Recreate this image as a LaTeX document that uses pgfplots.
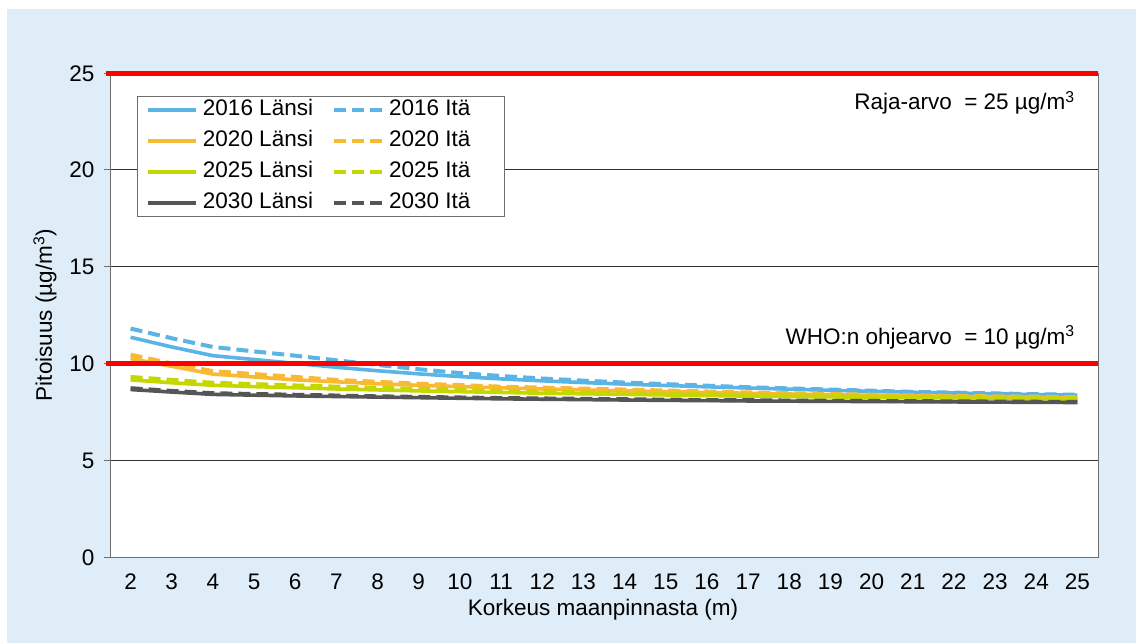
\documentclass[border=0pt]{standalone}
\usepackage{fontspec}
\setmainfont{Liberation Sans}
\usepackage{pgfplots}
\pgfplotsset{compat=1.18}

\definecolor{bgblue}{RGB}{222,237,247}
\definecolor{c16}{RGB}{91,180,230}
\definecolor{c20}{RGB}{250,185,50}
\definecolor{c25}{RGB}{198,214,0}
\definecolor{c30}{RGB}{85,85,85}
\definecolor{framegray}{RGB}{110,110,110}

\newcommand{\lblfont}{\fontsize{22.5}{27}\selectfont}

\begin{document}
\begin{tikzpicture}[x=1pt,y=1pt]
\useasboundingbox (0,0) rectangle (1136,-643);
\fill[white] (0,0) rectangle (1136,-643);
\fill[bgblue] (7,-9) rectangle (1136,-643);
\begin{axis}[
  at={(110pt,-557pt)}, anchor=south west,
  scale only axis, width=988pt, height=484pt,
  xmin=1.5, xmax=25.5, ymin=0, ymax=25,
  xtick={2,...,25}, ytick={0,5,...,25},
  axis background/.style={fill=white},
  axis line style={framegray, line width=1pt},
  ymajorgrids, grid style={black!80, line width=0.8pt},
  ytick pos=left, tick align=outside, major tick length=6pt,
  tick style={framegray, line width=0.8pt},
  xtick style={draw=none},
  /pgf/number format/assume math mode=true,
  ticklabel style={font=\lblfont, text=black, text height=16pt, text depth=0pt},
  xticklabel style={anchor=north, yshift=-7pt},
  yticklabel style={anchor=east, xshift=-6pt},
  xlabel={Korkeus maanpinnasta (m)},
  ylabel={Pitoisuus (µg/m\textsuperscript{3})},
  label style={font=\lblfont, text=black},
  xlabel style={at={(axis description cs:0.499,-0.1095)}, anchor=center},
  ylabel style={at={(axis description cs:-0.0658,0.5)}, anchor=center},
  clip=false,
  every axis plot/.append style={line width=3.6pt},
  legend columns=2,
  legend image code/.code={\draw[#1] (0pt,0pt) -- (48pt,0pt);},
  legend style={at={(0.0273,0.9525)}, anchor=north west,
    draw=framegray, line width=0.8pt, fill=white, font=\lblfont,
    inner xsep=9pt, inner ysep=4pt, row sep=11.5pt,
    nodes={inner xsep=0pt, inner ysep=0pt, text height=15pt, text depth=4.5pt},
    /tikz/every odd column/.append style={column sep=5pt},
    /tikz/every even column/.append style={column sep=19pt}},
  legend cell align=left,
]
% 2016
\addplot[c16] coordinates {(2,11.35) (3,10.85) (4,10.40) (5,10.20) (6,10.00) (7,9.80) (8,9.62) (9,9.46) (10,9.32) (11,9.20) (12,9.10) (13,9.01) (14,8.93) (15,8.86) (16,8.79) (17,8.73) (18,8.67) (19,8.61) (20,8.56) (21,8.51) (22,8.47) (23,8.43) (24,8.39) (25,8.36)};
\addlegendentry{2016 Länsi}
\addplot[c16, line width=4pt, dash pattern=on 12pt off 6pt] coordinates {(2,11.80) (3,11.30) (4,10.85) (5,10.62) (6,10.40) (7,10.16) (8,9.92) (9,9.70) (10,9.50) (11,9.35) (12,9.22) (13,9.11) (14,9.01) (15,8.93) (16,8.85) (17,8.77) (18,8.71) (19,8.65) (20,8.59) (21,8.53) (22,8.49) (23,8.45) (24,8.41) (25,8.38)};
\addlegendentry{\makebox[106pt][l]{2016 Itä}}
% 2020
\addplot[c20] coordinates {(2,10.25) (3,9.85) (4,9.45) (5,9.30) (6,9.15) (7,9.05) (8,8.95) (9,8.87) (10,8.80) (11,8.74) (12,8.68) (13,8.63) (14,8.58) (15,8.54) (16,8.50) (17,8.46) (18,8.42) (19,8.38) (20,8.35) (21,8.32) (22,8.30) (23,8.27) (24,8.25) (25,8.22)};
\addlegendentry{2020 Länsi}
\addplot[c20, line width=4pt, dash pattern=on 12pt off 6pt] coordinates {(2,10.45) (3,10.00) (4,9.60) (5,9.45) (6,9.30) (7,9.15) (8,9.05) (9,8.95) (10,8.88) (11,8.80) (12,8.75) (13,8.70) (14,8.65) (15,8.60) (16,8.55) (17,8.50) (18,8.46) (19,8.42) (20,8.38) (21,8.35) (22,8.32) (23,8.30) (24,8.28) (25,8.25)};
\addlegendentry{\makebox[106pt][l]{2020 Itä}}
% 2025
\addplot[c25] coordinates {(2,9.15) (3,9.00) (4,8.87) (5,8.80) (6,8.74) (7,8.68) (8,8.63) (9,8.58) (10,8.54) (11,8.50) (12,8.46) (13,8.43) (14,8.40) (15,8.37) (16,8.34) (17,8.31) (18,8.29) (19,8.27) (20,8.25) (21,8.23) (22,8.21) (23,8.19) (24,8.17) (25,8.15)};
\addlegendentry{2025 Länsi}
\addplot[c25, line width=4pt, dash pattern=on 12pt off 6pt] coordinates {(2,9.30) (3,9.15) (4,9.00) (5,8.93) (6,8.86) (7,8.80) (8,8.74) (9,8.68) (10,8.63) (11,8.58) (12,8.54) (13,8.50) (14,8.46) (15,8.43) (16,8.40) (17,8.37) (18,8.34) (19,8.31) (20,8.29) (21,8.27) (22,8.25) (23,8.23) (24,8.21) (25,8.20)};
\addlegendentry{\makebox[106pt][l]{2025 Itä}}
% 2030
\addplot[c30] coordinates {(2,8.65) (3,8.52) (4,8.40) (5,8.36) (6,8.32) (7,8.29) (8,8.26) (9,8.23) (10,8.20) (11,8.17) (12,8.15) (13,8.13) (14,8.11) (15,8.09) (16,8.08) (17,8.06) (18,8.05) (19,8.04) (20,8.03) (21,8.02) (22,8.01) (23,8.00) (24,7.99) (25,7.98)};
\addlegendentry{2030 Länsi}
\addplot[c30, line width=4pt, dash pattern=on 12pt off 6pt] coordinates {(2,8.72) (3,8.58) (4,8.46) (5,8.42) (6,8.38) (7,8.34) (8,8.30) (9,8.27) (10,8.24) (11,8.21) (12,8.19) (13,8.17) (14,8.15) (15,8.13) (16,8.11) (17,8.10) (18,8.08) (19,8.07) (20,8.06) (21,8.05) (22,8.04) (23,8.03) (24,8.02) (25,8.01)};
\addlegendentry{\makebox[106pt][l]{2030 Itä}}
% limit value and guideline
\addplot[red, line width=5pt, forget plot] coordinates {(1.40,25) (25.5,25)};
\addplot[red, line width=5pt, forget plot] coordinates {(1.40,10) (25.5,10)};
\node[anchor=east, font=\lblfont, inner sep=0pt] at (axis cs:24.94,23.45) {Raja-arvo\ \ = 25 µg/m\textsuperscript{3}};
\node[anchor=east, font=\lblfont, inner sep=0pt] at (axis cs:24.94,11.36) {WHO:n ohjearvo\ \ = 10 µg/m\textsuperscript{3}};
\end{axis}
\end{tikzpicture}
\end{document}
